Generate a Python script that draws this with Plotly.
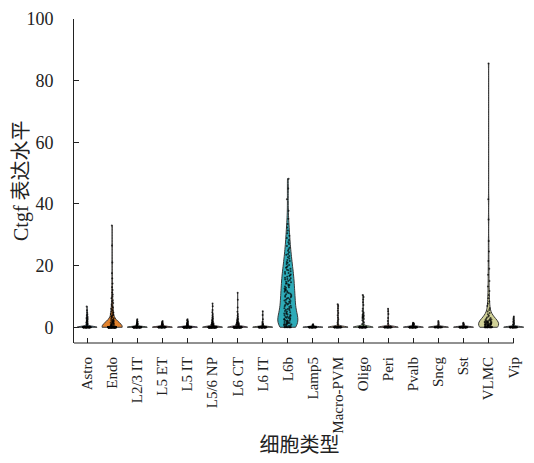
import colorsys
import plotly.graph_objects as go

# Cell types in display order
cell_types = ["Astro", "Endo", "L2/3 IT", "L5 ET", "L5 IT", "L5/6 NP", "L6 CT",
              "L6 IT", "L6b", "Lamp5", "Macro-PVM", "Oligo", "Peri", "Pvalb",
              "Sncg", "Sst", "VLMC", "Vip"]

# Non-zero Ctgf expression values per cell type
astro = [6.7, 5.5, 4.8, 4.2, 3.9, 3.5, 3.2, 3.0, 2.8, 2.5, 2.3, 2.1, 1.9, 1.7,
         1.5, 1.3, 1.1, 0.9, 0.7, 0.5]
endo = [33.0, 26.5, 21.0, 17.5, 15.8, 14.2, 13.0, 12.1, 11.3, 10.6, 10.0, 9.4,
        8.8, 8.3, 7.9, 7.4, 7.0, 6.6, 6.3, 6.0, 5.7, 5.4, 5.1, 4.8, 4.6, 4.3,
        4.1, 3.9, 3.7, 3.5, 3.3, 3.1, 2.9, 2.7, 2.5, 2.4, 2.2, 2.0, 1.9, 1.7,
        1.6, 1.4, 1.3, 1.1, 1.0, 0.8, 0.7, 0.5, 0.4, 0.2, 1.5, 1.2, 0.9, 0.6,
        0.3, 2.1, 1.8, 0.5]
l23_it = [2.6, 2.2, 1.9, 1.7, 1.5, 1.3, 1.2, 1.1, 1.0, 0.9, 0.8, 0.7, 0.6, 0.5,
          0.4, 0.3]
l5_et = [2.0, 1.7, 1.5, 1.3, 1.1, 1.0, 0.9, 0.8, 0.6, 0.5, 0.4, 0.3]
l5_it = [2.6, 2.3, 2.0, 1.8, 1.6, 1.4, 1.3, 1.2, 1.0, 0.9, 0.8, 0.7, 0.6, 0.5,
         0.4, 0.3, 0.2]
l56_np = [7.7, 6.8, 5.6, 4.9, 4.3, 3.8, 3.4, 3.1, 2.8, 2.5, 2.3, 2.1, 1.9, 1.7,
          1.6, 1.4, 1.3, 1.2, 1.1, 1.0, 0.9, 0.8, 0.7, 0.6, 0.5, 0.4, 0.3, 0.2]
l6_ct = [11.2, 8.9, 6.4, 5.0, 4.3, 3.8, 3.4, 3.0, 2.7, 2.5, 2.3, 2.1, 1.9, 1.7,
         1.6, 1.5, 1.4, 1.3, 1.2, 1.1, 1.0, 0.9, 0.8, 0.7, 0.6, 0.5, 0.4, 0.3]
l6_it = [5.2, 4.0, 2.6, 1.8, 1.4, 1.1, 0.9, 0.7, 0.5, 0.3]
l6b = [0.2, 0.3, 0.4, 0.5, 0.6, 0.7, 0.8, 0.9, 1.0, 1.1, 1.2, 1.3, 1.4, 1.5,
       1.6, 1.7, 1.9, 2.0,
       2.1, 2.2, 2.3, 2.5, 2.6, 2.7, 2.9, 3.0, 3.1, 3.3, 3.4, 3.5, 3.7, 3.9,
       4.0, 4.2, 4.4, 4.5, 4.7, 4.9, 5.1, 5.3, 5.5, 5.7, 5.9,
       6.0, 6.2, 6.4, 6.6, 6.8, 7.0, 7.2, 7.4, 7.6, 7.8, 7.9,
       8.1, 8.3, 8.5, 8.7, 8.9, 9.1, 9.3, 9.5, 9.7, 9.9,
       10.1, 10.3, 10.5, 10.7, 10.9, 11.1, 11.3, 11.5, 11.7, 11.9,
       12.1, 12.3, 12.6, 12.8, 13.0, 13.2, 13.5, 13.7, 13.9,
       14.1, 14.3, 14.6, 14.8, 15.0, 15.3, 15.5, 15.7, 15.9,
       16.1, 16.4, 16.6, 16.9, 17.1, 17.4, 17.6, 17.9,
       18.2, 18.5, 18.7, 19.0, 19.3, 19.5, 19.8,
       20.2, 20.5, 20.9, 21.2, 21.5, 21.8,
       22.3, 22.7, 23.1, 23.5, 23.8,
       24.3, 24.8, 25.3, 25.8,
       26.4, 27.0, 27.6,
       28.3, 29.0, 29.7,
       30.5, 31.4, 32.4, 33.5, 35.2, 37.8, 41.5, 45.0, 48.2]
lamp5 = [1.0, 0.8, 0.6, 0.5, 0.4, 0.3, 0.2]
macro_pvm = [7.5, 6.9, 6.2, 5.4, 4.6, 3.9, 3.2, 2.6, 2.0, 1.5, 1.0, 0.6, 0.3]
oligo = [10.5, 9.8, 9.0, 8.1, 7.2, 6.0, 5.3, 4.8, 4.4, 4.1, 3.8, 3.6, 3.4, 3.2,
         3.0, 2.7, 2.3, 1.9, 1.5, 1.1, 0.7, 0.4]
peri = [6.0, 5.2, 4.3, 3.0, 2.0, 1.2, 0.6, 0.3]
pvalb = [1.5, 1.3, 1.2, 1.1, 1.0, 0.9, 0.8, 0.7, 0.6, 0.5, 0.4, 0.3, 0.2, 0.1]
sncg = [2.0, 1.5, 1.0, 0.6, 0.3]
sst = [1.5, 1.2, 1.0, 0.8, 0.6, 0.4, 0.2]
vlmc = [85.6, 41.5, 35.0, 28.0, 24.6, 21.5, 19.0, 17.0, 15.0, 13.2, 11.8, 10.5,
        9.4, 8.4, 7.6, 6.9, 6.2, 5.6, 5.1, 4.6, 4.2, 3.8, 3.5, 3.2, 3.0, 2.8,
        2.6, 2.4, 2.2, 2.1, 2.0, 1.9, 1.8, 1.7, 1.6, 1.5, 1.4, 1.3, 1.2, 1.1,
        1.0, 0.9, 0.8, 0.7, 0.6, 0.5, 0.4, 0.3, 0.2, 0.1, 1.7, 1.3, 1.0, 0.8,
        0.6, 0.4, 2.3, 1.9, 1.5, 1.1, 0.9, 0.5, 1.2, 0.7, 2.5, 1.6]
vip = [3.5, 3.0, 2.6, 2.2, 1.9, 1.6, 1.3, 1.0, 0.8, 0.6, 0.4, 0.2]

nonzero_values = [astro, endo, l23_it, l5_et, l5_it, l56_np, l6_ct, l6_it, l6b,
                  lamp5, macro_pvm, oligo, peri, pvalb, sncg, sst, vlmc, vip]

# Number of cells with zero expression per cell type
zero_counts = [60, 110, 80, 50, 90, 100, 100, 60, 8, 50, 40, 50, 40, 60, 30, 60, 15, 40]

# Kernel bandwidth used for each violin
bandwidths = [0.3, 1.5, 0.25, 0.25, 0.25, 0.3, 0.3, 0.25, 2.4, 0.2, 0.3, 0.35,
              0.3, 0.25, 0.25, 0.25, 1.7, 0.25]

# Categorical palette, desaturated for the violin bodies
palette = ['#1f77b4', '#ff7f0e', '#279e68', '#d62728', '#aa40fc', '#8c564b',
           '#e377c2', '#b5bd61', '#17becf', '#aec7e8', '#ffbb78', '#98df8a',
           '#ff9896', '#c5b0d5', '#c49c94', '#f7b6d2', '#dbdb8d', '#9edae5']


def desaturate(hex_color, prop=0.75):
    r, g, b = (int(hex_color[i:i + 2], 16) / 255 for i in (1, 3, 5))
    h, l, s = colorsys.rgb_to_hls(r, g, b)
    r, g, b = colorsys.hls_to_rgb(h, l, s * prop)
    return "#%02x%02x%02x" % (round(r * 255), round(g * 255), round(b * 255))


SERIF = "Liberation Serif, 'Noto Sans CJK SC', serif"

fig = go.Figure()
for cat, vals, nz, bw, col in zip(cell_types, nonzero_values, zero_counts,
                                  bandwidths, palette):
    series = vals + [0.0] * nz
    fig.add_trace(go.Violin(
        x=[cat] * len(series),
        y=series,
        name=cat,
        width=0.8,
        bandwidth=bw,
        spanmode="hard",
        scalemode="width",
        fillcolor=desaturate(col),
        line=dict(color="#3a3a3a", width=1),
        points="all",
        pointpos=0,
        jitter=0.4,
        marker=dict(color="black", size=2, opacity=0.7),
        box_visible=False,
        meanline_visible=False,
        showlegend=False,
        hoverinfo="skip",
    ))

x_left = -0.52
fig.update_layout(
    width=534, height=463,
    margin=dict(l=74, r=9, t=14, b=120),
    paper_bgcolor="white", plot_bgcolor="white",
    violinmode="overlay",
    font=dict(family=SERIF, color="#222222"),
    xaxis=dict(
        type="category",
        categoryorder="array", categoryarray=cell_types,
        range=[x_left, len(cell_types) - 1 + 0.45],
        showline=False, showgrid=False, zeroline=False,
        ticks="inside", ticklen=5, tickcolor="#222222",
        ticklabelstandoff=10,
        tickangle=-90, tickfont=dict(size=15, family=SERIF),
        title=dict(text="细胞类型", font=dict(size=20, family=SERIF), standoff=1),
    ),
    yaxis=dict(
        range=[-5.1, 100],
        tickvals=[0, 20, 40, 60, 80, 100],
        showline=True, linecolor="#222222", linewidth=1,
        showgrid=False, zeroline=False,
        ticks="inside", ticklen=5, tickcolor="#222222",
        ticklabelstandoff=16,
        tickfont=dict(size=18, family=SERIF),
    ),
    annotations=[dict(
        text="Ctgf 表达水平", textangle=-90,
        xref="paper", yref="paper", x=0, y=0.5,
        xanchor="center", yanchor="middle", xshift=-53, showarrow=False,
        font=dict(size=20, family=SERIF, color="#222222"),
    )],
)

# Bottom axis line ending at the last category tick
fig.add_shape(type="line", xref="x", yref="paper",
              x0=x_left, x1=len(cell_types) - 1, y0=0, y1=0,
              line=dict(color="#222222", width=1))

fig.write_html("out.html")
